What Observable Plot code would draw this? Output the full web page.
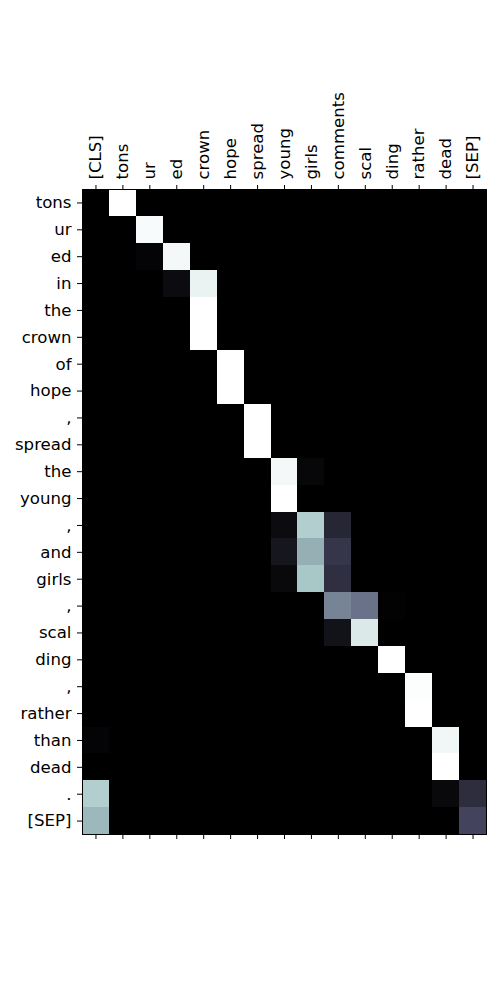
<!DOCTYPE html>
<html>
<head>
<meta charset="utf-8">
<script src="https://cdn.jsdelivr.net/npm/d3@7"></script>
<script src="https://cdn.jsdelivr.net/npm/@observablehq/plot@0.6"></script>
<style>
  body { margin: 0; background: #fff; }
  svg { font-family: "DejaVu Sans", sans-serif; }
</style>
</head>
<body>
<div id="chart"></div>
<script>
const xLabels = ["[CLS]", "tons", "ur", "ed", "crown", "hope", "spread", "young", "girls", "comments", "scal", "ding", "rather", "dead", "[SEP]"];
const yLabels = ["tons", "ur", "ed", "in", "the", "crown", "of", "hope", ",", "spread", "the", "young", ",", "and", "girls", ",", "scal", "ding", ",", "rather", "than", "dead", ".", "[SEP]"];

// attention weights: one row per y label, one value per x label
const attention = [
  [0,    1,    0,    0,    0,    0, 0, 0,    0,    0,    0,    0,    0,    0,    0   ],
  [0,    0,    0.98, 0,    0,    0, 0, 0,    0,    0,    0,    0,    0,    0,    0   ],
  [0,    0,    0.02, 0.97, 0,    0, 0, 0,    0,    0,    0,    0,    0,    0,    0   ],
  [0,    0,    0,    0.05, 0.94, 0, 0, 0,    0,    0,    0,    0,    0,    0,    0   ],
  [0,    0,    0,    0,    1,    0, 0, 0,    0,    0,    0,    0,    0,    0,    0   ],
  [0,    0,    0,    0,    1,    0, 0, 0,    0,    0,    0,    0,    0,    0,    0   ],
  [0,    0,    0,    0,    0,    1, 0, 0,    0,    0,    0,    0,    0,    0,    0   ],
  [0,    0,    0,    0,    0,    1, 0, 0,    0,    0,    0,    0,    0,    0,    0   ],
  [0,    0,    0,    0,    0,    0, 1, 0,    0,    0,    0,    0,    0,    0,    0   ],
  [0,    0,    0,    0,    0,    0, 1, 0,    0,    0,    0,    0,    0,    0,    0   ],
  [0,    0,    0,    0,    0,    0, 0, 0.97, 0.03, 0,    0,    0,    0,    0,    0   ],
  [0,    0,    0,    0,    0,    0, 0, 1,    0,    0,    0,    0,    0,    0,    0   ],
  [0,    0,    0,    0,    0,    0, 0, 0.05, 0.78, 0.17, 0,    0,    0,    0,    0   ],
  [0,    0,    0,    0,    0,    0, 0, 0.10, 0.67, 0.24, 0,    0,    0,    0,    0   ],
  [0,    0,    0,    0,    0,    0, 0, 0.04, 0.75, 0.21, 0,    0,    0,    0,    0   ],
  [0,    0,    0,    0,    0,    0, 0, 0,    0,    0.53, 0.47, 0.01, 0,    0,    0   ],
  [0,    0,    0,    0,    0,    0, 0, 0,    0,    0.08, 0.90, 0,    0,    0,    0   ],
  [0,    0,    0,    0,    0,    0, 0, 0,    0,    0,    0,    1,    0,    0,    0   ],
  [0,    0,    0,    0,    0,    0, 0, 0,    0,    0,    0,    0,    0.99, 0,    0   ],
  [0,    0,    0,    0,    0,    0, 0, 0,    0,    0,    0,    0,    1,    0,    0   ],
  [0.02, 0,    0,    0,    0,    0, 0, 0,    0,    0,    0,    0,    0,    0.96, 0   ],
  [0,    0,    0,    0,    0,    0, 0, 0,    0,    0,    0,    0,    0,    1,    0   ],
  [0.78, 0,    0,    0,    0,    0, 0, 0,    0,    0,    0,    0,    0,    0.04, 0.20],
  [0.70, 0,    0,    0,    0,    0, 0, 0,    0,    0,    0,    0,    0,    0,    0.30]
];

const cells = [];
attention.forEach((row, r) => row.forEach((v, c) => cells.push({row: r, col: c, v})));

// matplotlib "bone" colormap
function seg(pts, t) {
  for (let i = 1; i < pts.length; i++) {
    if (t <= pts[i][0]) {
      const [x0, y0] = pts[i - 1], [x1, y1] = pts[i];
      return y0 + (t - x0) / (x1 - x0) * (y1 - y0);
    }
  }
  return pts[pts.length - 1][1];
}
const boneR = [[0, 0], [0.746032, 0.652778], [1, 1]];
const boneG = [[0, 0], [0.365079, 0.319444], [0.746032, 0.777778], [1, 1]];
const boneB = [[0, 0], [0.365079, 0.444444], [1, 1]];
function bone(t) {
  t = Math.max(0, Math.min(1, t));
  const f = a => Math.round(seg(a, t) * 255);
  return `rgb(${f(boneR)},${f(boneG)},${f(boneB)})`;
}

const chart = Plot.plot({
  width: 500,
  height: 1000,
  marginLeft: 82,
  marginRight: 14,
  marginTop: 189,
  marginBottom: 166,
  style: {fontSize: "16.6px", fontFamily: "DejaVu Sans, sans-serif", background: "#fff", color: "#000"},
  x: {type: "band", domain: d3.range(xLabels.length), padding: 0, round: false, axis: null, label: null},
  y: {type: "band", domain: d3.range(yLabels.length), padding: 0, round: false, axis: null, label: null},
  color: {type: "linear", domain: [0, 1], interpolate: () => bone},
  marks: [
    Plot.cell(cells, {x: "col", y: "row", fill: "v", inset: 0, shapeRendering: "crispEdges"}),
    Plot.frame({stroke: "black", strokeWidth: 1}),
    Plot.axisX({anchor: "top", label: null, tickFormat: i => xLabels[i], tickRotate: -90, tickSize: 5, tickPadding: 5, fontSize: 16.6, stroke: "black", fill: "black"}),
    Plot.axisX({anchor: "bottom", label: null, tickFormat: () => "", tickSize: 5, stroke: "black"}),
    Plot.axisY({anchor: "left", label: null, tickFormat: i => yLabels[i], tickSize: 5, tickPadding: 6, fontSize: 16.6, stroke: "black", fill: "black"})
  ]
});
document.getElementById("chart").appendChild(chart);
</script>
</body>
</html>
